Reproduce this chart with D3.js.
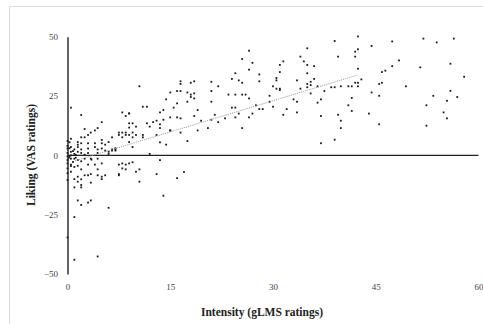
<!DOCTYPE html>
<html lang="en">
<head>
  <meta charset="utf-8" />
  <title>Liking vs Intensity</title>
  <script type="text/javascript" src="https://cdn.jsdelivr.net/npm/d3@7"></script>
  <style type="text/css">
body { margin: 0; background: white; }
.tick text { font-family: "Liberation Serif", "DejaVu Serif", serif; font-size: 9px; fill: #444; }
.title { font-family: "Liberation Serif", "DejaVu Serif", serif; font-size: 11.5px; font-weight: bold; fill: #222; }
  </style>
</head>
<body>

<script type="text/javascript">

var w = 483;
var h = 324;

// intensity (gLMS), paired with liking below
var intensity = [
  51.96, 53.9, 56.4, 47.4, 44.4, 48.4, 47.4, 51.5, 55.9, 57.9, 46.4, 45.9, 45.9, 45.5, 49.4,
  44.4, 45.5, 53.4, 55.9, 56.9, 55.4, 52.4, 54.9, 55.4, 52.4, 44.0, 45.5,
  42.4, 42.4, 42.0, 42.0, 39.0, 39.5, 42.4, 42.9, 42.4, 42.0, 42.4, 41.5, 41.0, 39.9, 41.5,
  41.0, 41.5, 39.0, 38.5, 37.5, 37.0, 36.5, 37.0, 39.5, 39.9, 39.9, 39.0, 37.0, 36.5,
  35.0, 34.0, 34.5, 35.0, 36.0, 35.0, 36.0, 35.5, 35.0, 35.5, 35.0, 33.5, 34.0, 35.5, 33.0,
  33.5, 33.5, 32.0, 31.5, 31.5, 31.0, 31.0, 30.5, 30.5, 30.5, 31.0, 31.0, 30.0, 29.5, 29.5, 30.0,
  26.5, 25.5, 27.0, 26.5, 24.5, 24.0, 25.0, 25.5, 28.0, 28.0, 23.5, 24.5, 25.5, 26.0, 26.5,
  27.5, 24.0, 24.5, 28.0, 28.5, 25.0, 27.0, 24.5, 26.5, 23.0, 25.5, 21.0, 21.0, 22.0, 21.0,
  21.5, 22.0, 21.0, 20.5,
  16.5, 16.5, 18.5, 18.0, 18.0, 15.0, 16.0, 16.5, 17.5, 18.5, 18.5, 18.0, 14.4, 16.0, 15.5,
  17.5, 19.0, 18.5, 16.0, 16.5, 15.0, 19.5, 19.0, 15.0, 16.5, 17.5, 17.0, 16.0, 14.0, 13.5, 12.0,
  11.0, 11.6, 10.5, 13.5, 14.0, 12.5, 13.0, 13.5, 14.0, 11.6, 12.0, 13.5, 15.0, 11.0, 11.0,
  13.0, 13.5, 14.4, 10.0, 9.5, 10.0, 9.0, 9.5, 9.0, 8.0, 8.5, 8.0, 8.5, 8.5, 9.0, 9.5, 8.0,
  9.0, 9.5, 7.5, 7.5, 10.5, 10.0, 10.5, 13.0, 9.5, 9.0, 8.5, 8.0, 7.5, 7.5, 7.5, 8.0, 8.5,
  6.0, 7.0, 9.0, 9.0,
  0.5, 2.0, 4.4, 4.0, 5.0, 3.4, 2.5, 3.0, 2.0, 2.5, 0.5, 1.5, 1.5, 2.0, 3.0, 4.0, 5.0, 5.0,
  5.5, 6.0, 6.5, 7.0, 6.5, 5.0, 4.4, 4.0, 3.0, 2.0, 1.5, 1.0, 0.5, 0.0, 0.5, 1.0, 1.5, 2.0,
  3.0, 4.4, 0.5, 0.0, 0.2, 0.5, 1.0, 1.5, 2.0, 2.5, 3.4, 4.4, 0.0, 0.5, 0.0, 0.5, 1.0, 1.5,
  2.0, 3.0, 4.0, 5.0, 4.4, 3.4, 2.5, 3.0, 2.0, 1.5, 1.0, 1.5, 2.0, 2.0, 1.0, 3.4, 5.0, 5.5,
  4.4, 5.0, 1.5, 2.0, 3.0, 3.4, 1.0, 1.0, 4.4, 0.0, 0.0, 5.5, 6.0, 6.5,
  0.0, 0.0, 0.0, 0.3, 0.3, 0.8, 0.8, 1.2, 0.0, 0.3, 1.2, 2.5, 3.5, 6.0, 7.0, 0.0, 0.5
];

// liking (VAS) for each intensity above
var liking = [
  49.2, 47.6, 49.2, 48.0, 46.1, 40.0, 37.6, 37.1, 38.6, 33.1, 35.7, 35.1, 30.6, 30.1, 29.1,
  26.5, 25.1, 25.1, 27.2, 24.6, 23.0, 21.1, 18.1, 15.6, 12.5, 17.6, 13.1,
  50.1, 44.7, 43.7, 41.6, 48.2, 41.6, 36.5, 32.0, 30.6, 30.6, 29.1, 29.1, 29.1, 29.1, 24.2,
  21.1, 18.7, 28.7, 28.7, 27.1, 23.6, 22.2, 16.6, 17.1, 14.6, 11.5, 6.6, 5.1, 29.1,
  45.1, 41.6, 39.6, 38.1, 37.6, 34.6, 32.2, 31.0, 30.1, 29.6, 28.7, 31.6, 28.1, 26.1, 23.6,
  22.6, 18.1, 19.5, 17.1, 39.6, 38.1, 35.1, 32.6, 31.6, 28.1, 27.5, 28.1, 29.1, 25.1, 22.6, 20.5,
  44.1, 40.6, 39.0, 36.1, 34.6, 32.2, 31.6, 30.6, 34.1, 31.2, 25.6, 25.6, 25.6, 25.6, 24.0,
  21.1, 20.1, 20.1, 19.5, 19.5, 17.6, 17.6, 16.0, 16.0, 15.6, 11.5, 31.0, 27.1, 29.1, 22.6,
  17.1, 14.0, 15.0, 11.5,
  31.2, 30.1, 31.2, 30.6, 25.6, 26.5, 27.1, 27.1, 26.5, 26.1, 24.0, 24.6, 23.6, 21.9, 20.1,
  22.6, 19.1, 16.6, 16.0, 15.6, 16.0, 14.6, 10.5, 10.5, 9.6, 6.0, -7.0, -9.6, -17.0, -2.0, 0.6,
  20.5, 20.5, 29.1, 18.1, 19.1, 14.0, 14.6, 13.1, 15.0, 13.5, 12.1, 11.5, 10.5, 8.6, 7.6,
  8.6, 5.5, 4.5, 8.6, 9.6, 12.1, 13.5, 13.5, 17.6, 18.1, 16.6, 9.6, 9.6, 8.6, 8.6, 7.6, 7.6,
  5.6, 3.5, 8.6, 9.6, -5.9, -6.9, -11.1, -7.9, -2.9, -3.4, -3.9, -3.4, -3.9, -7.9, -8.4, -5.5, -5.9,
  -22.1, 2.0, 17.7, 11.7,
  20.1, 17.0, 11.5, 10.5, 14.0, 9.6, 11.1, 8.6, 7.6, 7.6, 7.0, 5.6, 4.5, 5.1, 5.1, 5.1, 6.5, 5.1,
  4.5, 5.6, 7.6, 2.5, 2.0, 2.9, 2.5, 3.5, 2.9, 2.5, 3.5, 2.5, 3.5, 2.9, 1.5, 0.6, 1.5, 1.0,
  1.0, 1.0, 0.0, -0.4, -1.0, -1.4, -1.4, -2.0, -2.5, -1.4, -1.4, -1.4, -3.4, -3.9, -5.5, -6.9, -4.9, -4.4,
  -5.9, -3.9, -3.9, -3.4, -5.9, -7.9, -8.4, -8.4, -10.1, -9.0, -10.0, -11.1, -12.5, -13.5, -13.5, -11.5, -9.0, -8.4,
  -8.4, -10.0, -19.0, -20.9, -19.9, -19.0, -26.0, -44.0, -42.6, -34.6, -10.4, 2.0, 0.6, 2.5,
  1.0, -2.0, 4.0, 3.0, -0.5, 1.8, -2.8, 0.2, -7.5, 5.5, -1.0, 0.3, -1.8, 1.5, 3.0, 6.0, -4.5
];

// fitted trend line end points
var trendX = [1.1, 42.3];
var trendY = [-2.3, 33.8];

var xTicks = [0, 15, 30, 45, 60];
var yTicks = [-50, -25, 0, 25, 50];

var points = intensity.map(function(d, i) { return { x: d, y: liking[i] }; });

var x = d3.scaleLinear().domain([0, 60]).range([67.5, 478.5]);
var y = d3.scaleLinear().domain([-50, 50]).range([274, 36.7]);

var svg = d3.select("body")
    .append("svg")
    .attr("width", w)
    .attr("height", h);

// faint frame round the figure
svg.append("rect")
    .attr("x", 9.5).attr("y", 6.5)
    .attr("width", w).attr("height", h)
    .attr("fill", "none")
    .attr("stroke", "#ddd");

// y axis: the domain line is the vertical axis at x = 0
var yAxis = svg.append("g")
    .attr("transform", "translate(" + x(0) + ",0)")
    .call(d3.axisLeft(y).tickValues(yTicks).tickSize(0).tickSizeOuter(0).tickPadding(9.5));
yAxis.select(".domain").attr("stroke", "#222").attr("stroke-width", 1.4);

var xAxis = svg.append("g")
    .attr("transform", "translate(0," + y(-50) + ")")
    .call(d3.axisBottom(x).tickValues(xTicks).tickSize(0).tickPadding(9.5));
xAxis.select(".domain").remove();

// zero line
svg.append("line")
    .attr("x1", x(0)).attr("x2", x(60))
    .attr("y1", y(0)).attr("y2", y(0))
    .attr("stroke", "#222")
    .attr("stroke-width", 1.4);

svg.append("g").attr("id", "dots")
  .selectAll("rect")
    .data(points)
  .enter().append("rect")
    .attr("x", function(d) { return x(d.x) - 0.9; })
    .attr("y", function(d) { return y(d.y) - 0.9; })
    .attr("width", 1.8)
    .attr("height", 1.8)
    .attr("fill", "#1a1a1a");

svg.append("line")
    .attr("x1", x(trendX[0])).attr("y1", y(trendY[0]))
    .attr("x2", x(trendX[1])).attr("y2", y(trendY[1]))
    .attr("stroke", "#999")
    .attr("stroke-width", 1)
    .attr("stroke-dasharray", "1,1");

svg.append("text")
    .attr("class", "title")
    .attr("x", 262).attr("y", 316)
    .attr("text-anchor", "middle")
    .text("Intensity (gLMS ratings)");

svg.append("text")
    .attr("class", "title")
    .attr("transform", "translate(35,155) rotate(-90)")
    .attr("text-anchor", "middle")
    .text("Liking (VAS ratings)");

</script>

</body>
</html>
